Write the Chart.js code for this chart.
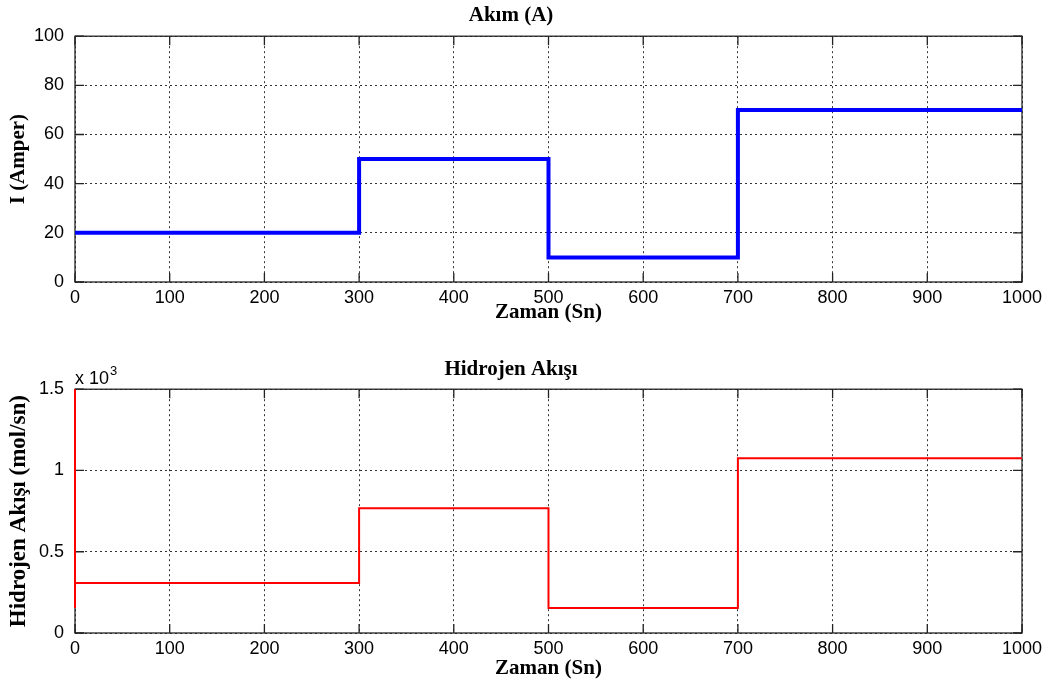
<!DOCTYPE html>
<html>
<head>
<meta charset="utf-8">
<script src="https://cdn.jsdelivr.net/npm/chart.js@4.4.1/dist/chart.umd.min.js"></script>
<style>
  html, body { margin: 0; padding: 0; background: #fff; }
  canvas { display: block; }
</style>
</head>
<body>
<canvas id="akimChart" width="1056" height="343"></canvas>
<canvas id="hidrojenChart" width="1056" height="343"></canvas>
<script>
// step change times (s) and current values (A)
const akimTimes = [0, 300, 500, 700, 1000];
const akimValues = [20, 50, 10, 70, 70];

// hydrogen flow, values in x10^-3 mol/s (spike at t=0)
const h2Times = [0, 0, 0, 300, 500, 700, 1000];
const h2Values = [0.154, 1.5, 0.307, 0.768, 0.154, 1.075, 1.075];

const SERIF = "'Liberation Serif', 'Times New Roman', serif";
const SANS = "'Liberation Sans', Arial, sans-serif";

// box + inward tick marks like the matlab axes
const boxPlugin = {
  id: "boxPlugin",
  beforeDatasetsDraw(chart) {
    const { ctx, chartArea: a, scales } = chart;
    ctx.save();
    ctx.strokeStyle = "#222";
    ctx.lineWidth = 1.3;
    ctx.strokeRect(a.left, a.top, a.right - a.left, a.bottom - a.top);
    const len = 9;
    ctx.beginPath();
    scales.x.ticks.forEach(t => {
      const px = scales.x.getPixelForValue(t.value);
      ctx.moveTo(px, a.bottom); ctx.lineTo(px, a.bottom - len);
      ctx.moveTo(px, a.top); ctx.lineTo(px, a.top + len);
    });
    scales.y.ticks.forEach(t => {
      const py = scales.y.getPixelForValue(t.value);
      ctx.moveTo(a.left, py); ctx.lineTo(a.left + len, py);
      ctx.moveTo(a.right, py); ctx.lineTo(a.right - len, py);
    });
    ctx.stroke();
    ctx.restore();
  },
  afterDraw(chart, args, opts) {
    if (!opts.exponent) return;
    const { ctx, chartArea: a } = chart;
    ctx.save();
    ctx.fillStyle = "#000";
    ctx.textBaseline = "alphabetic";
    ctx.font = "18px " + SANS;
    ctx.fillText("x 10", a.left, a.top - 5);
    const w = ctx.measureText("x 10").width;
    ctx.font = "13px " + SANS;
    ctx.fillText(opts.exponent, a.left + w + 1, a.top - 14);
    ctx.restore();
  }
};

const plainLabel = v => String(v);

function makeChart(id, cfg) {
  const ctx = document.getElementById(id).getContext("2d");
  return new Chart(ctx, {
    type: "line",
    data: {
      datasets: [{
        data: cfg.x.map((t, i) => ({ x: t, y: cfg.y[i] })),
        borderColor: cfg.color,
        borderWidth: cfg.width,
        pointRadius: 0,
        stepped: true,
        fill: false,
        clip: false
      }]
    },
    options: {
      responsive: false,
      animation: false,
      layout: { padding: { left: 0, right: 34, top: 0, bottom: 0 } },
      plugins: {
        legend: { display: false },
        tooltip: { enabled: false },
        title: {
          display: true,
          text: cfg.title,
          color: "#000",
          font: { family: SERIF, size: 21, weight: "bold" },
          padding: cfg.titlePad
        },
        boxPlugin: { exponent: cfg.exponent }
      },
      scales: {
        x: {
          type: "linear",
          min: 0, max: 1000,
          ticks: { stepSize: 100, color: "#000", font: { family: SANS, size: 18 }, padding: 5, maxRotation: 0, callback: plainLabel },
          grid: { color: "#333", borderDash: [2, 3], drawTicks: false },
          border: { display: false, dash: [2, 3] },
          title: {
            display: true, text: "Zaman (Sn)", color: "#000",
            font: { family: SERIF, size: 21, weight: "bold" },
            padding: { top: 0, bottom: cfg.xTitleBottom }
          },
          afterFit(scale) { scale.height = cfg.xHeight; }
        },
        y: {
          min: cfg.yMin, max: cfg.yMax,
          ticks: { stepSize: cfg.yStep, color: "#000", font: { family: SANS, size: 18 }, padding: 11, callback: plainLabel },
          grid: { color: "#333", borderDash: [2, 3], drawTicks: false },
          border: { display: false, dash: [2, 3] },
          title: {
            display: true, text: cfg.yTitle, color: "#000",
            font: { family: SERIF, size: cfg.yTitleSize, weight: "bold" },
            padding: { top: cfg.yTitlePad, bottom: 0 }
          },
          afterFit(scale) { scale.width = 75; }
        }
      }
    },
    plugins: [boxPlugin]
  });
}

makeChart("akimChart", {
  x: akimTimes, y: akimValues,
  color: "#0000ff", width: 4,
  title: "Akım (A)", titlePad: { top: 3, bottom: 8 },
  yTitle: "I (Amper)", yTitleSize: 21, yTitlePad: 6,
  yMin: 0, yMax: 100, yStep: 20,
  xHeight: 61, xTitleBottom: 18
});

makeChart("hidrojenChart", {
  x: h2Times, y: h2Values,
  color: "#ff0000", width: 2,
  title: "Hidrojen Akışı", titlePad: { top: 14, bottom: 7 },
  yTitle: "Hidrojen Akışı (mol/sn)", yTitleSize: 23, yTitlePad: 5,
  yMin: 0, yMax: 1.5, yStep: 0.5,
  xHeight: 53, xTitleBottom: 5,
  exponent: "3"
});
</script>
</body>
</html>
